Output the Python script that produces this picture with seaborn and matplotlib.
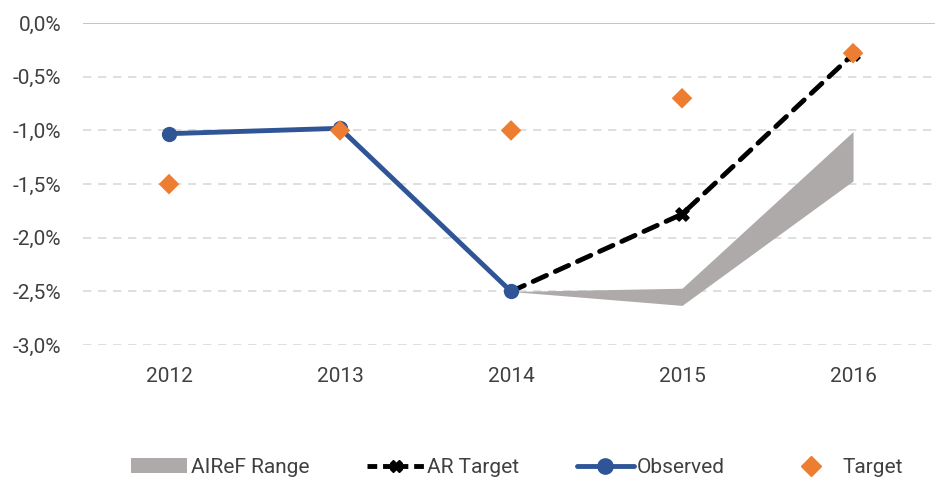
import numpy as np
import pandas as pd
import matplotlib.pyplot as plt
import seaborn as sns
from matplotlib.patches import Patch
from matplotlib.lines import Line2D
from matplotlib.ticker import FuncFormatter

years = ["2012", "2013", "2014", "2015", "2016"]
observed = [-1.03, -0.98, -2.50, np.nan, np.nan]
ar_target = [np.nan, np.nan, -2.50, -1.78, -0.29]
target = [-1.50, -1.00, -1.00, -0.70, -0.28]
range_low = [np.nan, np.nan, -2.50, -2.63, -1.47]
range_high = [np.nan, np.nan, -2.50, -2.47, -1.01]

sns.set_style("white")
plt.rcParams['font.family'] = ['Roboto', 'DejaVu Sans']

df = pd.DataFrame({"x": range(len(years)), "observed": observed, "ar": ar_target,
                   "target": target, "lo": range_low, "hi": range_high})

fig = plt.figure(figsize=(9.35, 4.82), dpi=100)
ax = fig.add_axes([0.0893, 0.284, 0.9145, 0.668])

# grid
for v in np.arange(-3.0, 0.01, 0.5):
    if v > -0.01:
        ax.axhline(v, color="#bfbfbf", lw=1.3, zorder=0)
    else:
        ax.axhline(v, color="#d9d9d9", lw=1.2, ls=(0, (5, 4)), zorder=0)

rng = df.dropna(subset=["lo"])
ax.fill_between(rng["x"], rng["lo"], rng["hi"], color="#aeaaaa", lw=0, zorder=1)

d_ar = df.dropna(subset=["ar"])
sns.lineplot(data=d_ar, x="x", y="ar", ax=ax, color="black", lw=3.5,
             dashes=False, zorder=2, legend=False)
ax.lines[-1].set_dashes([3, 2])
ax.lines[-1].set_dash_capstyle("round")
ax.scatter(d_ar["x"].iloc[1:], d_ar["ar"].iloc[1:], marker="X", s=90, color="black", zorder=3)

d_obs = df.dropna(subset=["observed"])
sns.lineplot(data=d_obs, x="x", y="observed", ax=ax, color="#2f5597", lw=3.5,
             marker="o", markersize=11, markeredgewidth=0, zorder=4, legend=False)

sns.scatterplot(data=df, x="x", y="target", ax=ax, color="#ed7d31", marker="D",
                s=110, edgecolor="none", zorder=5, legend=False)

ax.set_xlim(-0.5, 4.5)
ax.set_ylim(-3.0, 0.0)
ax.set_yticks(np.arange(-3.0, 0.01, 0.5))
ax.yaxis.set_major_formatter(FuncFormatter(lambda v, p: f"{v:.1f}%".replace(".", ",")))
ax.set_xticks(range(len(years)))
ax.set_xticklabels(years)
ax.tick_params(axis="both", length=0, labelsize=15, colors="#404040")
ax.tick_params(axis="x", pad=16)
ax.tick_params(axis="y", pad=16)
ax.set_xlabel("")
ax.set_ylabel("")
sns.despine(ax=ax, left=True, bottom=True)

handles = [
    Patch(facecolor="#aeaaaa", edgecolor="none", label="AIReF Range"),
    Line2D([0], [0], color="black", lw=3.5, ls=(0, (2, 1.2)), marker="X", markersize=9, label="AR Target"),
    Line2D([0], [0], color="#2f5597", lw=3.5, marker="o", markersize=11, label="Observed"),
    Line2D([0], [0], color="#ed7d31", lw=0, marker="D", markersize=10, label="Target"),
]
fig.legend(handles=handles, loc="center", bbox_to_anchor=(0.553, 0.03), ncol=4, frameon=False,
           fontsize=15, handlelength=2.7, handletextpad=0.15, columnspacing=2.8,
           labelcolor="#404040")

fig.savefig("out.png", dpi=100)
